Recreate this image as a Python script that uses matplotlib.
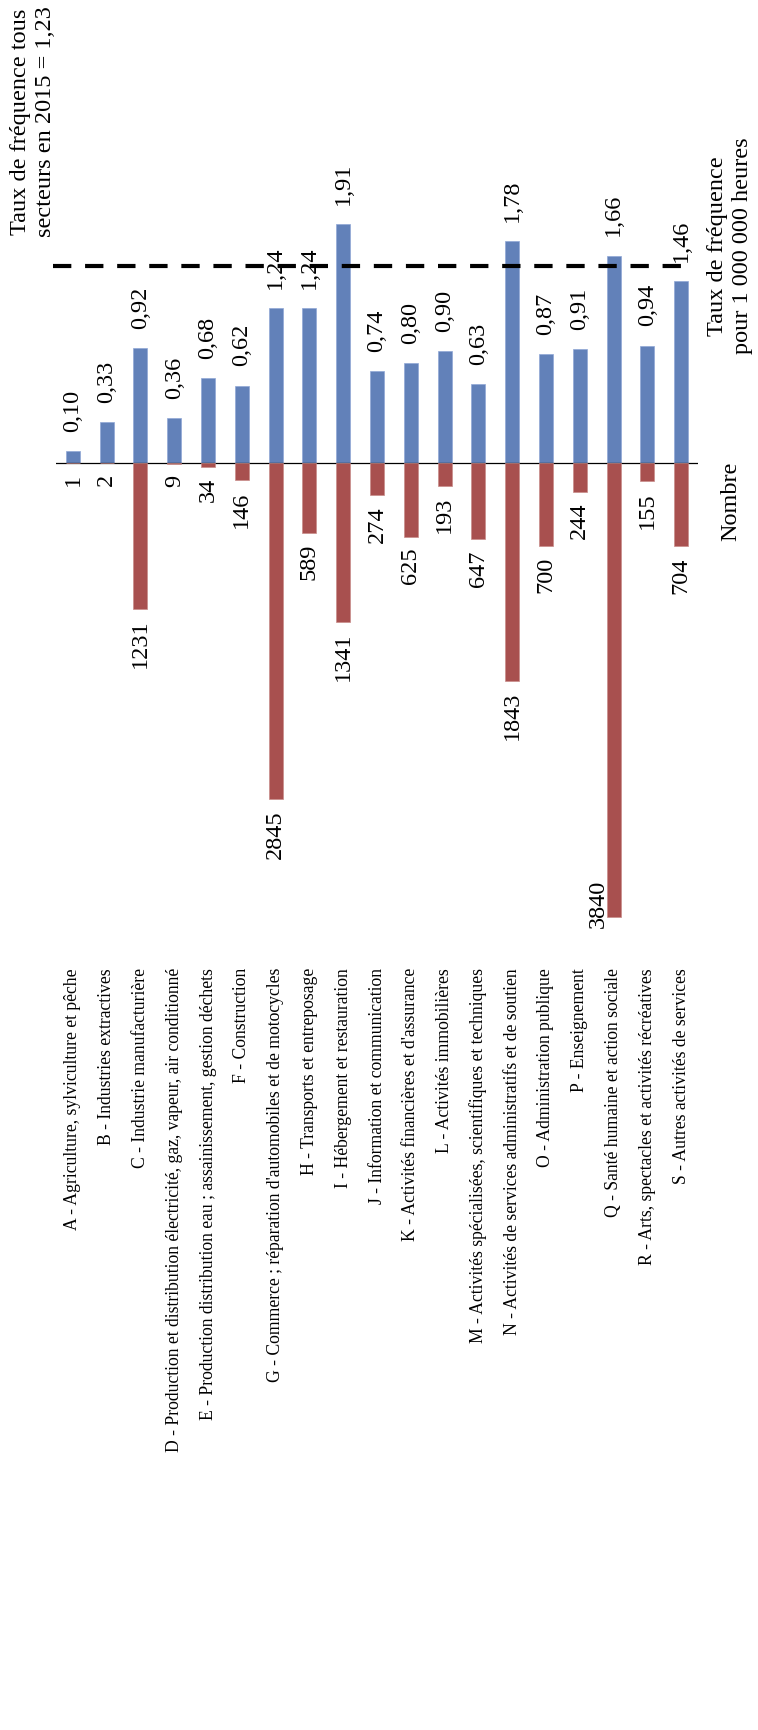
import matplotlib
matplotlib.use('Agg')
import matplotlib.pyplot as plt
import matplotlib.transforms as mtransforms

plt.rcParams['font.family'] = ['Liberation Serif', 'DejaVu Serif']

# secteurs d'activité (NAF)
secteurs = [
    "A - Agriculture, sylviculture et pêche",
    "B - Industries extractives",
    "C - Industrie manufacturière",
    "D - Production et distribution électricité, gaz, vapeur, air conditionné",
    "E - Production distribution eau ; assainissement, gestion déchets",
    "F - Construction",
    "G - Commerce ; réparation d'automobiles et de motocycles",
    "H - Transports et entreposage",
    "I - Hébergement et restauration",
    "J - Information et communication",
    "K - Activités financières et d'assurance",
    "L - Activités immobilières",
    "M - Activités spécialisées, scientifiques et techniques",
    "N - Activités de services administratifs et de soutien",
    "O - Administration publique",
    "P - Enseignement",
    "Q - Santé humaine et action sociale",
    "R - Arts, spectacles et activités récréatives",
    "S - Autres activités de services",
]
taux = [0.10, 0.33, 0.92, 0.36, 0.68, 0.62, 1.24, 1.24, 1.91, 0.74,
        0.80, 0.90, 0.63, 1.78, 0.87, 0.91, 1.66, 0.94, 1.46]
nombre = [1, 2, 1231, 9, 34, 146, 2845, 589, 1341, 274,
          625, 193, 647, 1843, 700, 244, 3840, 155, 704]
taux_tous_secteurs = 1.23

BLEU = '#6281B9'
ROUGE = '#A8504F'
W, H = 758, 1731
FS = 17.5

fig = plt.figure(figsize=(W / 100, H / 100), dpi=100)
# zone de tracé en pixels : x 56..698, y 100..928, ligne de base a y=464
top_px, bot_px, base_px = 100, 928, 464
ax = fig.add_axes([56 / W, 1 - bot_px / H, 642 / W, (bot_px - top_px) / H])
ax2 = ax.twinx()
ax3 = ax.twinx()
for a in (ax, ax2, ax3):
    for s in a.spines.values():
        s.set_visible(False)
    a.set_xticks([])
    a.set_yticks([])
    a.patch.set_visible(False)

x = list(range(len(secteurs)))
ax.set_xlim(-0.5, len(secteurs) - 0.5)

# echelles : taux (haut), nombre (bas), ligne tous secteurs
k_taux = 125.0
k_nb = 0.1182
k_ref = (base_px - 267) / taux_tous_secteurs
ax.set_ylim(-(bot_px - base_px) / k_taux, (base_px - top_px) / k_taux)
ax2.set_ylim(-(bot_px - base_px) / k_nb, (base_px - top_px) / k_nb)
ax3.set_ylim(-(bot_px - base_px) / k_ref, (base_px - top_px) / k_ref)

bw = 0.414
ax.bar(x, taux, width=bw, color=BLEU, edgecolor='#8FA8D6', linewidth=0.5, zorder=2)
ax2.bar(x, [-n for n in nombre], width=bw, color=ROUGE, edgecolor='#C88C8A',
        linewidth=0.5, zorder=2)
ax.axhline(0, color='black', lw=0.9, zorder=3)

ax3.plot([-0.59, 18.03], [taux_tous_secteurs, taux_tous_secteurs], color='black',
         lw=3.0, dashes=(4.4, 3.3), solid_capstyle='butt', dash_capstyle='butt',
         clip_on=False, zorder=4)

for xi, v in zip(x, taux):
    ax.annotate(f"{v:.2f}".replace('.', ','), (xi, v), xytext=(0, 20),
                textcoords='offset pixels', rotation=90, ha='center', va='bottom',
                fontsize=FS)

for xi, n in zip(x, nombre):
    if n == max(nombre):
        # l'etiquette ne tient pas sous la barre : a gauche, en bas de la zone
        ax2.text(xi - bw / 2 + 0.06, ax2.get_ylim()[0], str(n), rotation=90,
                 ha='right', va='bottom', fontsize=FS)
    else:
        ax2.annotate(str(n), (xi, -n), xytext=(0, -10), textcoords='offset pixels',
                     rotation=90, ha='center', va='top', fontsize=FS)

# libellés des secteurs
trans = mtransforms.blended_transform_factory(ax.transData, fig.transFigure)
for xi, lab in zip(x, secteurs):
    ax.text(xi, 1 - 968 / H, lab, transform=trans, rotation=90, ha='center',
            va='top', fontsize=12.7)

fig.text(33 / W, 1 - 6 / H, "Taux de fréquence tous\nsecteurs en 2015 = 1,23",
         rotation=90, ha='center', va='top', multialignment='center', fontsize=FS)
fig.text(730 / W, 1 - 246 / H, "Taux de fréquence\npour 1 000 000 heures",
         rotation=90, ha='center', va='center', multialignment='center', fontsize=FS)
fig.text(731 / W, 1 - 501 / H, "Nombre", rotation=90, ha='center', va='center',
         fontsize=FS)

fig.savefig('out.png', dpi=100)
